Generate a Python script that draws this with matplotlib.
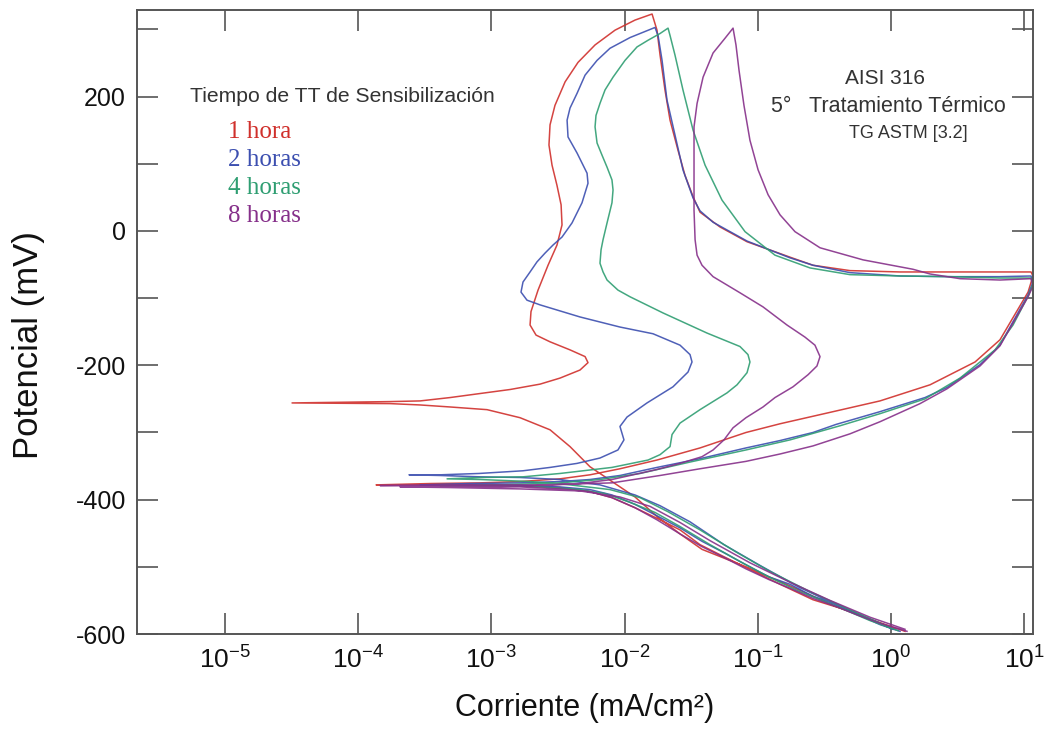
import numpy as np
import matplotlib
matplotlib.use('Agg')
import matplotlib.pyplot as plt
from matplotlib.ticker import MultipleLocator, FixedLocator, NullLocator

plt.rcParams['font.family'] = ['Liberation Sans', 'DejaVu Sans']
plt.rcParams['axes.unicode_minus'] = False

# log10 of current (mA/cm2) and potential (mV)
# each curve: forward cathodic -> Ecorr -> anodic -> vertex -> reverse scan

logi_1h = [0.105, -0.158, -0.308, -0.586, -0.833, -1.059, -1.254, -1.434, -1.584, -1.734,
           -1.922, -2.095, -2.260, -2.485, -2.785, -3.086, -3.461, -3.866,
           -3.461, -3.086, -2.785, -2.485, -2.260, -2.035, -1.757, -1.434, -1.089, -0.833,
           -0.413, -0.083, 0.293, 0.631, 0.818, 0.916, 1.029, 1.066,
           1.051, 0.818, 0.443, 0.068, -0.308, -0.586, -0.758, -1.081, -1.284, -1.434,
           -1.486, -1.547, -1.599, -1.659, -1.697, -1.734, -1.757, -1.794,
           -1.922, -2.072, -2.222, -2.350, -2.447, -2.523, -2.560, -2.568, -2.545, -2.508,
           -2.477, -2.470, -2.508, -2.575, -2.650, -2.703, -2.710, -2.665, -2.560, -2.410,
           -2.297, -2.275, -2.335, -2.485, -2.635, -2.860, -3.086, -3.311, -3.536, -3.761, -4.497,
           -3.761, -3.536, -3.311, -3.033, -2.785, -2.560, -2.410, -2.260, -2.095, -1.922,
           -1.757, -1.584, -1.419, -1.089, -0.751, -0.413, -0.083, 0.030]
e_1h = [-596, -578, -566, -549, -526, -504, -485, -467, -445, -430,
        -412, -397, -388, -382, -379, -379, -378, -378,
        -376, -375, -373, -369, -363, -354, -341, -323, -300, -287,
        -268, -253, -229, -195, -162, -129, -91, -67,
        -61, -61, -61, -61, -59, -51, -39, -16, 6, 28,
        51, 83, 120, 165, 210, 262, 299, 323,
        314, 299, 277, 251, 222, 187, 158, 128, 98, 68,
        39, 9, -21, -51, -88, -120, -140, -155, -165, -177,
        -187, -196, -207, -219, -228, -236, -242, -248, -253, -254, -256,
        -257, -259, -262, -266, -278, -296, -321, -351, -373, -396,
        -425, -451, -474, -500, -529, -559, -584, -593]

logi_2h = [0.068, -0.083, -0.248, -0.413, -0.586, -0.758, -0.916, -1.089, -1.254, -1.419,
           -1.584, -1.757, -1.922, -2.095, -2.260, -2.485, -2.785, -3.161, -3.536,
           -3.161, -2.785, -2.485, -2.260, -2.035, -1.757, -1.434, -1.089, -0.833, -0.586,
           -0.413, -0.083, 0.255, 0.420, 0.668, 0.818, 0.916, 1.029, 1.066,
           1.051, 0.818, 0.443, 0.068, -0.308, -0.586, -0.758, -1.081, -1.336, -1.434,
           -1.486, -1.562, -1.622, -1.682, -1.719, -1.749, -1.772,
           -1.959, -2.110, -2.207, -2.297, -2.357, -2.410, -2.432, -2.425, -2.357, -2.282,
           -2.275, -2.320, -2.395, -2.470, -2.538, -2.598, -2.658, -2.710, -2.763, -2.778,
           -2.733, -2.635, -2.485, -2.335, -2.035, -1.787, -1.584, -1.509, -1.494, -1.524,
           -1.637, -1.832, -1.982, -2.035, -2.005, -2.050, -2.185, -2.357, -2.560, -2.763,
           -3.093, -3.386, -3.619,
           -3.386, -3.086, -2.785, -2.485, -2.185, -1.922, -1.734, -1.509, -1.254, -0.983,
           -0.683, -0.383, -0.120, 0.015]
e_2h = [-596, -586, -571, -556, -544, -526, -515, -497, -479, -462,
        -442, -424, -407, -393, -385, -381, -379, -378, -378,
        -376, -375, -373, -370, -364, -352, -339, -323, -312, -300,
        -288, -269, -248, -233, -199, -170, -135, -95, -76,
        -67, -68, -68, -67, -62, -51, -40, -15, 13, 30,
        49, 91, 143, 195, 254, 291, 303,
        288, 272, 254, 232, 205, 183, 165, 140, 116, 86,
        71, 42, 12, -9, -21, -33, -46, -61, -76, -91,
        -103, -110, -119, -128, -143, -153, -170, -184, -195, -210,
        -232, -256, -277, -291, -311, -326, -338, -346, -352, -357,
        -361, -363, -363,
        -364, -366, -367, -370, -378, -393, -409, -433, -467, -498,
        -531, -559, -581, -593]

logi_4h = [0.053, -0.158, -0.383, -0.683, -0.908, -1.134, -1.359, -1.584, -1.772, -1.959,
           -2.147, -2.335, -2.635, -2.935, -3.386,
           -2.935, -2.485, -2.185, -1.884, -1.509, -1.089, -0.758, -0.383, -0.083, 0.255,
           0.518, 0.781, 0.916, 1.029, 1.066,
           1.051, 0.818, 0.443, 0.068, -0.308, -0.608, -0.871, -1.096, -1.269, -1.396,
           -1.486, -1.562, -1.622, -1.659, -1.674,
           -1.734, -1.824, -1.907, -1.997, -2.087, -2.147, -2.185, -2.215, -2.222, -2.207,
           -2.170, -2.132, -2.095, -2.087, -2.095, -2.132, -2.162, -2.177, -2.185, -2.162,
           -2.132, -2.050, -1.959, -1.712, -1.381, -1.134, -1.074, -1.059, -1.081, -1.156,
           -1.231, -1.434, -1.584, -1.644, -1.659, -1.734, -1.824, -2.095, -2.485, -2.763,
           -3.086, -3.333,
           -3.086, -2.710, -2.410, -2.110, -1.884, -1.674, -1.434, -1.171, -0.908, -0.608,
           -0.308, -0.023]
e_4h = [-595, -580, -561, -537, -516, -492, -467, -440, -419, -404,
        -391, -385, -381, -379, -379,
        -378, -375, -370, -361, -344, -326, -311, -290, -272, -250,
        -219, -177, -140, -97, -79,
        -70, -70, -68, -67, -65, -55, -36, -1, 46, 98,
        150, 210, 262, 291, 302,
        294, 284, 274, 254, 229, 210, 190, 172, 155, 131,
        113, 95, 76, 61, 42, 12, -13, -28, -48, -61,
        -73, -88, -98, -122, -152, -172, -184, -195, -211, -229,
        -241, -266, -286, -303, -321, -333, -341, -352, -361, -366,
        -367, -369,
        -370, -373, -378, -385, -397, -418, -445, -477, -507, -537,
        -564, -589]

logi_8h = [0.120, -0.083, -0.248, -0.413, -0.586, -0.758, -0.916, -1.089, -1.254, -1.419,
           -1.584, -1.757, -1.922, -2.095, -2.260, -2.485, -2.785, -3.161, -3.836,
           -3.161, -2.635, -2.260, -2.095, -1.734, -1.434, -1.089, -0.833, -0.586, -0.308,
           -0.083, 0.218, 0.420, 0.668, 0.818, 0.916, 1.029, 1.066,
           1.051, 0.818, 0.518, 0.293, 0.165, -0.210, -0.533, -0.721, -0.833, -0.923,
           -0.998, -1.059, -1.104, -1.141, -1.164, -1.186,
           -1.246, -1.336, -1.411, -1.456, -1.479, -1.479, -1.479, -1.479, -1.471, -1.456,
           -1.419, -1.336, -1.134, -0.961, -0.781, -0.646, -0.571, -0.533, -0.556, -0.623,
           -0.736, -0.871, -0.961, -1.089, -1.186, -1.254, -1.336, -1.419, -1.584, -1.757,
           -1.959, -2.095, -2.335, -2.635, -2.935, -3.686,
           -3.311, -2.785, -2.335, -2.035, -1.809, -1.584, -1.359, -1.059, -0.758, -0.458,
           -0.158, 0.105]
e_8h = [-596, -584, -572, -559, -547, -532, -519, -503, -486, -470,
        -451, -430, -412, -397, -388, -384, -381, -379, -379,
        -378, -378, -376, -375, -364, -354, -343, -332, -320, -302,
        -284, -257, -235, -201, -171, -137, -98, -82,
        -71, -73, -71, -64, -57, -43, -25, -1, 24, 54,
        91, 135, 187, 239, 277, 302,
        287, 265, 229, 190, 155, 120, 80, 31, -13, -36,
        -51, -68, -92, -113, -140, -158, -170, -187, -201, -214,
        -232, -248, -262, -278, -293, -311, -326, -336, -346, -355,
        -364, -370, -376, -379, -381, -381,
        -382, -384, -387, -396, -410, -434, -461, -494, -523, -550,
        -575, -593]

labels = ['1 hora', '2 horas', '4 horas', '8 horas']
colors = ['#d0302c', '#3c4fb0', '#2f9e72', '#86308a']
curves = [(logi_1h, e_1h), (logi_2h, e_2h), (logi_4h, e_4h), (logi_8h, e_8h)]

x_ticks = [1e-5, 1e-4, 1e-3, 1e-2, 1e-1, 1e0, 1e1]
x_ticklabels = [r'$\mathdefault{10^{-5}}$', r'$\mathdefault{10^{-4}}$', r'$\mathdefault{10^{-3}}$',
                r'$\mathdefault{10^{-2}}$', r'$\mathdefault{10^{-1}}$', r'$\mathdefault{10^{0}}$',
                r'$\mathdefault{10^{1}}$']

W, H = 1046, 729
fig = plt.figure(figsize=(W / 100, H / 100), dpi=100)
ax = fig.add_axes([137 / W, 1 - 634 / H, (1033 - 137) / W, (634 - 10) / H])

for (li, ev), c in zip(curves, colors):
    ax.plot(10 ** np.array(li), ev, color=c, lw=1.1, alpha=0.9)

ax.set_xscale('log')
ax.set_xlim(10 ** -5.661, 10 ** 1.066)
ax.set_ylim(-600, 329)

ax.yaxis.set_major_locator(MultipleLocator(200))
ax.yaxis.set_minor_locator(MultipleLocator(100))
ax.xaxis.set_major_locator(FixedLocator(x_ticks))
ax.xaxis.set_minor_locator(NullLocator())
ax.set_xticklabels(x_ticklabels)

ax.tick_params(which='both', direction='in', top=True, right=True,
               length=15, width=1.2, color='#555555', labelsize=18, labelcolor='#111111')
ax.tick_params(axis='y', pad=8)
ax.tick_params(axis='x', pad=9, labelsize=19)
for s in ax.spines.values():
    s.set_color('#555555')
    s.set_linewidth(1.4)

ax.set_xlabel('Corriente (mA/cm²)', fontsize=22, color='#111111', labelpad=14)
ax.set_ylabel('Potencial (mV)', fontsize=25, color='#111111')
ax.yaxis.set_label_coords(-0.103, 0.463)

# legend block (text only)
fig.text(190 / W, 1 - 96 / H, 'Tiempo de TT de Sensibilización', fontsize=15.2,
         color='#333333', va='center', ha='left')
for k, (lab, c) in enumerate(zip(labels, colors)):
    fig.text(228 / W, 1 - (132 + 28 * k) / H, lab, fontsize=18, color=c,
             family=['Liberation Serif', 'DejaVu Serif'], va='center', ha='left')

# annotation
fig.text(885 / W, 1 - 78 / H, 'AISI 316', fontsize=15, color='#333333', ha='center', va='center')
fig.text(888 / W, 1 - 107 / H, '5°   Tratamiento Térmico', fontsize=15.5, color='#333333',
         ha='center', va='center')
fig.text(908 / W, 1 - 133 / H, 'TG ASTM [3.2]', fontsize=13, color='#333333', ha='center', va='center')

fig.savefig('out.png', dpi=100)
